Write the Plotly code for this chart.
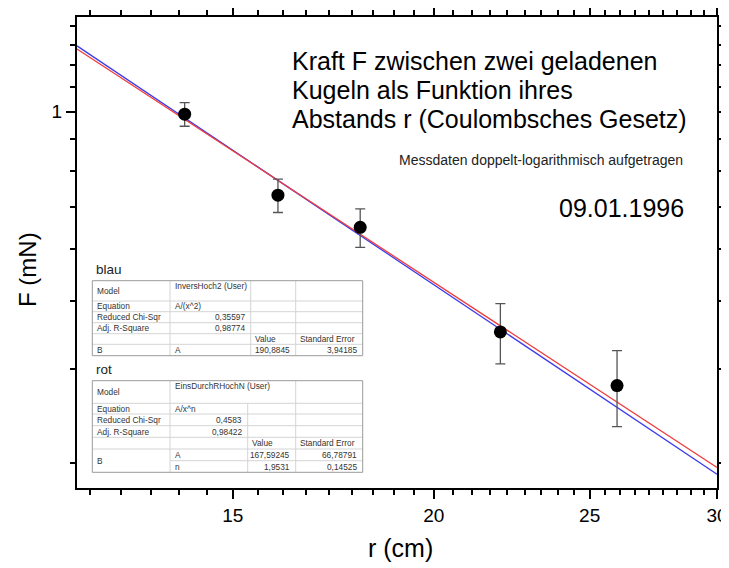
import numpy as np
import plotly.graph_objects as go

# ---------------- data ----------------
r_cm = [14, 16, 18, 22, 26]
F_mN = [0.99, 0.70, 0.61, 0.39, 0.31]
F_err = [0.05, 0.05, 0.05, 0.05, 0.05]

# fit parameters (from the fit tables)
blau_A = 190.8845
blau_n = 2.0
rot_A = 167.59245
rot_n = 1.9531

x_range = [12, 30]
y_range = [0.2, 1.5]
x_major = [15, 20, 25, 30]
x_major_text = ["15", "20", "25", "30"]
y_major = [1]
y_major_text = ["1"]

x_title = "r (cm)"
y_title = "F (mN)"
title_lines = ["Kraft F zwischen zwei geladenen",
               "Kugeln als Funktion ihres",
               "Abstands r (Coulombsches Gesetz)"]
subtitle = "Messdaten doppelt-logarithmisch aufgetragen"
date_text = "09.01.1996"

# table 1 (blau)
t1_label = "blau"
t1_model = "InversHoch2 (User)"
t1_equation = "A/(x^2)"
t1_chi = "0,35597"
t1_r2 = "0,98774"
t1_params = ["A"]
t1_values = ["190,8845"]
t1_errors = ["3,94185"]

# table 2 (rot)
t2_label = "rot"
t2_model = "EinsDurchRHochN (User)"
t2_equation = "A/x^n"
t2_chi = "0,4583"
t2_r2 = "0,98422"
t2_params = ["A", "n"]
t2_values = ["167,59245", "1,9531"]
t2_errors = ["66,78791", "0,14525"]

FONT = "Liberation Sans, Arial, sans-serif"

# ---------------- geometry ----------------
# the page body has an 8px margin, so the figure starts at (8, 8) of the window
OFF = 8
W, H = 721, 560
PL, PT, PR, PB = 77, 17, 717, 488          # plot area in window pixels
PW, PH = PR - PL, PB - PT
ML, MT = PL - OFF, PT - OFF
MR = W - ML - PW
MB = H - MT - PH


def X(px):
    return (px - PL) / PW


def Y(py):
    return (PB - py) / PH


fig = go.Figure()

# fit curves
rr = np.linspace(x_range[0], x_range[1], 60)
fig.add_trace(go.Scatter(x=rr, y=blau_A / rr ** blau_n, mode="lines",
                         line=dict(color="rgb(60,60,235)", width=1.3),
                         showlegend=False, hoverinfo="skip"))
fig.add_trace(go.Scatter(x=rr, y=rot_A / rr ** rot_n, mode="lines",
                         line=dict(color="rgb(240,60,60)", width=1.3),
                         showlegend=False, hoverinfo="skip"))

# measured data
fig.add_trace(go.Scatter(x=r_cm, y=F_mN, mode="markers",
                         marker=dict(color="black", size=13),
                         error_y=dict(type="data", array=F_err, color="#555",
                                      thickness=1.3, width=5),
                         showlegend=False))

# minor tick positions: 8 minor ticks per major interval
x_minor = [a + 5 * k / 9 for a in (10, 15, 20, 25) for k in range(1, 9)]
y_minor = [a + k / 9 for a in (0, 1) for k in range(1, 9)]

axis_common = dict(showline=True, linewidth=2, linecolor="black", mirror="ticks",
                   ticks="outside", ticklen=9, tickwidth=2, tickcolor="black",
                   showgrid=False, zeroline=False,
                   tickfont=dict(family=FONT, size=19, color="black"))

fig.update_xaxes(type="log", range=[np.log10(x_range[0]), np.log10(x_range[1])],
                 tickmode="array", tickvals=x_major, ticktext=x_major_text,
                 minor=dict(tickmode="array", tickvals=x_minor, ticks="outside",
                            ticklen=5, tickwidth=2, tickcolor="black", showgrid=False),
                 **axis_common)
fig.update_yaxes(type="log", range=[np.log10(y_range[0]), np.log10(y_range[1])],
                 tickmode="array", tickvals=y_major, ticktext=y_major_text,
                 minor=dict(tickmode="array", tickvals=y_minor, ticks="outside",
                            ticklen=5, tickwidth=2, tickcolor="black", showgrid=False),
                 **axis_common)

annotations = []
shapes = []

# axis titles
annotations.append(dict(x=X(400), y=Y(548), xref="paper", yref="paper", text=x_title,
                        showarrow=False, xanchor="center", yanchor="middle",
                        font=dict(family=FONT, size=25, color="black")))
annotations.append(dict(x=X(27), y=Y(270), xref="paper", yref="paper", text=y_title,
                        showarrow=False, xanchor="center", yanchor="middle", textangle=-90,
                        font=dict(family=FONT, size=24, color="black")))

# title text
for i, line in enumerate(title_lines):
    annotations.append(dict(x=X(290), y=Y(61.5 + 28.7 * i), xref="paper", yref="paper",
                            text=line, showarrow=False, xanchor="left", yanchor="middle",
                            font=dict(family=FONT, size=25, color="black")))
annotations.append(dict(x=X(685), y=Y(160), xref="paper", yref="paper", text=subtitle,
                        showarrow=False, xanchor="right", yanchor="middle",
                        font=dict(family=FONT, size=14, color="#222")))
annotations.append(dict(x=X(686), y=Y(208), xref="paper", yref="paper", text=date_text,
                        showarrow=False, xanchor="right", yanchor="middle",
                        font=dict(family=FONT, size=25, color="black")))

TF = dict(family=FONT, size=8.3, color="#333")
GRID = "#d4d4d4"
BORDER = "#9a9a9a"


def txt(x, y, s, anchor="left", size=None):
    f = dict(TF)
    if size:
        f = dict(family=FONT, size=size, color="#222")
    annotations.append(dict(x=X(x), y=Y(y), xref="paper", yref="paper", text=s,
                            showarrow=False, xanchor=anchor, yanchor="middle", font=f))


def hline(x0, x1, y, color=GRID):
    shapes.append(dict(type="line", xref="paper", yref="paper", x0=X(x0), x1=X(x1),
                       y0=Y(y), y1=Y(y), line=dict(color=color, width=1)))


def vline(x, y0, y1, color=GRID):
    shapes.append(dict(type="line", xref="paper", yref="paper", x0=X(x), x1=X(x),
                       y0=Y(y0), y1=Y(y1), line=dict(color=color, width=1)))


def table(top, cols, rows, label, model, equation, chi, r2, params, values, errors,
          model_span):
    # white background
    shapes.append(dict(type="rect", xref="paper", yref="paper", x0=X(cols[0]), x1=X(cols[-1]),
                       y0=Y(rows[-1]), y1=Y(rows[0]), fillcolor="white",
                       line=dict(width=0), layer="above"))
    # horizontal lines
    for j, ry in enumerate(rows[1:-1], start=1):
        if j >= 6:  # inside merged "B" cell
            hline(cols[1], cols[-1], ry)
        else:
            hline(cols[0], cols[-1], ry)
    # vertical lines
    vline(cols[1], rows[0], rows[-1])
    vline(cols[3], rows[0], rows[-1])
    if model_span:
        vline(cols[2], rows[1], rows[-1])
    else:
        vline(cols[2], rows[0], rows[-1])
    # border
    shapes.append(dict(type="rect", xref="paper", yref="paper", x0=X(cols[0]), x1=X(cols[-1]),
                       y0=Y(rows[-1]), y1=Y(rows[0]), line=dict(color=BORDER, width=1)))
    txt(cols[0] + 2, top - 12, label, size=13.5)

    def mid(a, b):
        return (rows[a] + rows[b]) / 2

    txt(cols[0] + 3, mid(0, 1), "Model")
    txt(cols[1] + 3, rows[0] + 5.5, model)
    txt(cols[0] + 3, mid(1, 2), "Equation")
    txt(cols[1] + 3, mid(1, 2), equation)
    txt(cols[0] + 3, mid(2, 3), "Reduced Chi-Sqr")
    txt(cols[2] - 4, mid(2, 3), chi, "right")
    txt(cols[0] + 3, mid(3, 4), "Adj. R-Square")
    txt(cols[2] - 4, mid(3, 4), r2, "right")
    txt(cols[2] + 2, mid(4, 5), "Value")
    txt(cols[3] + 2, mid(4, 5), "Standard Error")
    txt(cols[0] + 3, (rows[5] + rows[-1]) / 2, "B")
    for k, (p, v, e) in enumerate(zip(params, values, errors)):
        txt(cols[1] + 3, mid(5 + k, 6 + k), p)
        txt(cols[3] - 3.5, mid(5 + k, 6 + k), v, "right")
        txt(cols[4] - 3.5, mid(5 + k, 6 + k), e, "right")


table(281, [92.3, 170, 250.7, 295.7, 362.7],
      [280.7, 301, 311.7, 322.7, 333.7, 344.3, 355.7],
      t1_label, t1_model, t1_equation, t1_chi, t1_r2, t1_params, t1_values, t1_errors,
      model_span=False)
table(381, [92.3, 170, 247.7, 295.7, 362.7],
      [380.7, 403.3, 414, 425.7, 437.3, 449, 460.7, 472.3],
      t2_label, t2_model, t2_equation, t2_chi, t2_r2, t2_params, t2_values, t2_errors,
      model_span=True)

fig.update_layout(width=W, height=H,
                  margin=dict(l=ML, r=MR, t=MT, b=MB, autoexpand=False),
                  paper_bgcolor="white", plot_bgcolor="white",
                  font=dict(family=FONT, color="black"),
                  annotations=annotations, shapes=shapes, showlegend=False)

fig.write_html("out.html")
